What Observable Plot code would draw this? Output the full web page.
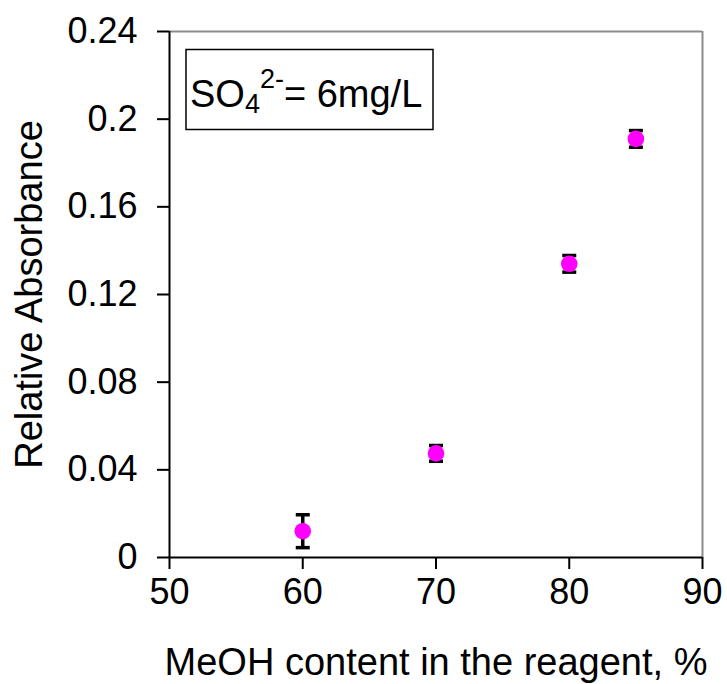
<!DOCTYPE html>
<html>
<head>
<meta charset="utf-8">
<script src="https://cdn.jsdelivr.net/npm/d3@7"></script>
<script src="https://cdn.jsdelivr.net/npm/@observablehq/plot@0.6"></script>
<style>
  html, body { margin: 0; padding: 0; background: white; }
  #chart svg { display: block; }
</style>
</head>
<body>
<div id="chart"></div>
<script>
// Data
const meoh = [60, 70, 80, 85];                  // MeOH content, %
const absorbance = [0.012, 0.0475, 0.134, 0.191]; // relative absorbance
const errors = [0.0075, 0.0036, 0.0038, 0.0038]; // error bar half-length
const xTicks = [50, 60, 70, 80, 90];
const yTicks = [0, 0.04, 0.08, 0.12, 0.16, 0.2, 0.24];
const xLabel = "MeOH content in the reagent, %";
const yLabel = "Relative Absorbance";

const data = meoh.map((x, i) => ({x, y: absorbance[i], e: errors[i]}));

// horizontal line symbol for error bar caps (half-width = r)
const capSymbol = {
  draw(context, size) {
    const w = Math.sqrt(size / Math.PI);
    context.moveTo(-w, 0);
    context.lineTo(w, 0);
  }
};

const FONT = 36;

const chart = Plot.plot({
  width: 727,
  height: 684,
  marginLeft: 169,
  marginRight: 25,
  marginTop: 31,
  marginBottom: 127,
  style: {fontFamily: "'Liberation Sans', Arial, sans-serif", color: "black", background: "white"},
  x: {domain: [50, 90]},
  y: {domain: [0, 0.24]},
  marks: [
    Plot.ruleY([0.24], {stroke: "#8c8c8c", strokeWidth: 2}),
    Plot.ruleX([90], {stroke: "#8c8c8c", strokeWidth: 2}),
    Plot.ruleX([50], {stroke: "black", strokeWidth: 2}),
    Plot.ruleY([0], {stroke: "black", strokeWidth: 2}),
    Plot.axisX({
      ticks: xTicks, tickSize: 12, tickPadding: 9, strokeWidth: 2,
      fontSize: FONT, tickFormat: d => String(d), label: null
    }),
    Plot.axisX({
      ticks: [], label: xLabel, labelAnchor: "center", labelArrow: "none",
      labelOffset: 117, fontSize: 38
    }),
    Plot.axisY({
      ticks: yTicks, tickSize: 12, tickPadding: 20, strokeWidth: 2,
      fontSize: FONT, tickFormat: d => String(+d.toFixed(2)), label: null
    }),
    Plot.axisY({
      ticks: [], label: yLabel, labelAnchor: "center", labelArrow: "none",
      labelOffset: 154, fontSize: 38
    }),
    Plot.ruleX(data, {x: "x", y1: d => d.y - d.e, y2: d => d.y + d.e, stroke: "black", strokeWidth: 3.5}),
    Plot.dot(data, {x: "x", y: d => d.y - d.e, symbol: capSymbol, r: 7, stroke: "black", strokeWidth: 3.5, fill: "none"}),
    Plot.dot(data, {x: "x", y: d => d.y + d.e, symbol: capSymbol, r: 7, stroke: "black", strokeWidth: 3.5, fill: "none"}),
    Plot.dot(data, {x: "x", y: "y", r: 8.3, fill: "#ff00ff", stroke: "none"})
  ]
});

document.getElementById("chart").appendChild(chart);

// annotation box "SO4^2- = 6mg/L"
const svg = d3.select(chart);
const g = svg.append("g")
  .attr("font-family", "'Liberation Sans', Arial, sans-serif")
  .attr("text-anchor", "start");
g.append("rect")
  .attr("x", 186).attr("y", 49.5).attr("width", 247).attr("height", 80)
  .attr("fill", "white").attr("stroke", "black").attr("stroke-width", 1.5);
const t = g.append("text")
  .attr("x", 190).attr("y", 107).attr("font-size", 38)
  .attr("fill", "black").attr("text-anchor", "start");
t.append("tspan").text("SO");
t.append("tspan").attr("font-size", 27).attr("dy", 6).text("4");
t.append("tspan").attr("font-size", 27).attr("dy", -25).text("2-");
t.append("tspan").attr("dy", 19).text("= 6mg/L");
</script>
</body>
</html>
